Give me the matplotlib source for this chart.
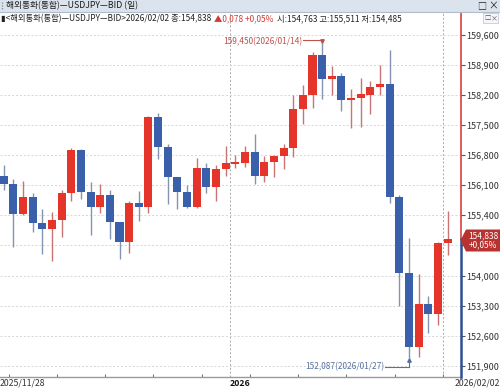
import numpy as np
import pandas as pd
import matplotlib
matplotlib.use("Agg")
import matplotlib.pyplot as plt
from matplotlib.patches import Rectangle, Polygon
from matplotlib.lines import Line2D

plt.rcParams['font.family'] = ['Noto Sans CJK KR', 'DejaVu Sans']

##### DATA #####
dates = [d.strftime("%Y/%m/%d") for d in pd.bdate_range("2025-11-28", "2026-02-02")]

opens = [156.314, 156.128, 155.423, 155.833, 155.214, 155.088, 155.284, 155.919, 156.912, 155.935,
         155.593, 155.865, 155.237, 154.772, 155.686, 155.600, 157.693, 156.995, 156.298, 155.935,
         155.586, 156.493, 156.065, 156.470, 156.600, 156.623, 156.872, 156.314, 156.647, 156.779,
         156.958, 157.865, 158.191, 159.121, 158.581, 158.647, 158.074, 158.121, 158.205, 158.377,
         158.447, 155.826, 154.058, 152.337, 153.344, 153.098, 154.763]
highs = [156.570, 156.244, 156.191, 155.919, 155.547, 155.477, 155.988, 156.958, 156.942, 156.167,
         156.128, 155.988, 155.244, 155.733, 155.965, 157.709, 157.772, 157.051, 156.298, 156.098,
         156.733, 156.609, 156.570, 157.005, 156.802, 157.005, 157.298, 156.779, 156.802, 157.065,
         158.198, 158.430, 159.191, 159.450, 158.879, 158.716, 158.337, 158.600, 158.530, 158.895,
         159.244, 155.872, 154.865, 154.028, 153.530, 154.772, 155.511]
lows = [155.988, 154.670, 155.407, 155.005, 154.500, 154.337, 154.895, 155.740, 155.779, 154.935,
        155.447, 154.842, 154.377, 154.516, 155.274, 155.460, 156.702, 155.656, 155.553, 155.570,
        155.575, 155.912, 155.740, 156.314, 156.500, 156.530, 156.121, 156.167, 156.298, 156.470,
        156.756, 157.516, 157.902, 158.105, 158.198, 157.833, 157.423, 157.460, 157.749, 158.198,
        155.679, 153.291, 152.087, 152.112, 152.670, 152.849, 154.485]
closes = [156.128, 155.430, 155.833, 155.221, 155.088, 155.284, 155.919, 156.912, 155.935, 155.586,
          155.865, 155.237, 154.772, 155.693, 155.600, 157.693, 156.995, 156.284, 155.935, 155.586,
          156.493, 156.065, 156.470, 156.623, 156.640, 156.872, 156.314, 156.647, 156.779, 156.958,
          157.872, 158.191, 159.121, 158.570, 158.647, 158.081, 158.135, 158.214, 158.377, 158.447,
          155.826, 154.058, 152.344, 153.344, 153.098, 154.749, 154.838]

yticks = [151.9, 152.6, 153.3, 154.0, 154.7, 155.4, 156.1, 156.8, 157.5, 158.2, 158.9, 159.6]
hidden_tick = 154.7   # covered by the price tag

title = "해외통화(통합)—USDJPY—BID (일)"
info_1 = "▮<해외통화(통합)—USDJPY—BID>2026/02/02 종:154,838"
info_2 = "▲0,078 +0,05%"
info_3 = "시:154,763 고:155,511 저:154,485"
change_pct = "+0,05%"

##### STYLE #####
W, H = 500, 388
RED = "#e5352b"
BLUE = "#3a5fab"
RED_WICK = "#c97474"
BLUE_WICK = "#8294b2"


def fx(px):
    return px / W


def fy(py):
    return 1 - py / H


def fmt(v):
    return f"{v:.3f}".replace(".", ",")


fig = plt.figure(figsize=(W / 100, H / 100), dpi=100)
fig.patch.set_facecolor("white")

# plot area: x 0..460.5 px, y 13..377 px
ax = fig.add_axes([0, fy(377), fx(460.5), (377 - 13) / H])
ax.set_facecolor("white")

x = np.arange(len(dates))
o = np.array(opens)
c = np.array(closes)
up = c >= o
cols = np.where(up, RED, BLUE)
wcols = np.where(up, RED_WICK, BLUE_WICK)

ax.vlines(x, lows, highs, colors=wcols, lw=1.0, zorder=2)
ax.bar(x, np.maximum(np.abs(c - o), 0.03), bottom=np.minimum(o, c), width=0.83,
       color=cols, linewidth=0, zorder=3)

ax.set_xlim(-3.7 / 9.65, (460.5 - 3.7) / 9.65)
ax.set_ylim(157.5 - (377 - 125) / 43.0, 157.5 + (125 - 13) / 43.0)

ax.set_yticks(yticks)
ax.set_yticklabels(["" if v == hidden_tick else fmt(v) for v in yticks])
ax.yaxis.tick_right()
ax.tick_params(axis="y", length=3, width=0.8, color="#555555", labelsize=6.5,
               labelcolor="#333333", pad=1)
ax.grid(axis="y", color="#d6d6d6", linestyle=(0, (2, 2)), lw=0.7, zorder=0)

# weekly ticks on the x axis, between friday and monday
dd = pd.to_datetime(dates)
week_ticks = [i + 0.5 for i in range(len(dd) - 1) if dd[i + 1].weekday() < dd[i].weekday()]
ax.set_xticks(week_ticks)
ax.set_xticklabels([])
ax.tick_params(axis="x", length=2, width=0.8, color="#777777", direction="in")

# year / month separators
year_sep = [i + 0.5 for i in range(len(dd) - 1) if dd[i + 1].month != dd[i].month
            and (dd[i + 1].month == 1 or dd[i + 1].month == 2)]
for xs in year_sep:
    ax.axvline(xs, color="#a8a8a8", linestyle=(0, (2, 2)), lw=0.7, zorder=1)

for s in ["top", "left", "right"]:
    ax.spines[s].set_visible(False)
ax.spines["bottom"].set_color("#9a9a9a")
ax.spines["bottom"].set_linewidth(1.0)

# right axis line, red above the last price, blue below
last = closes[-1]
ax.plot([1, 1], [last, ax.get_ylim()[1]], transform=ax.get_yaxis_transform(),
        color="#d8413a", lw=1.2, clip_on=False, zorder=5)
ax.plot([1, 1], [ax.get_ylim()[0], last], transform=ax.get_yaxis_transform(),
        color="#2e4f91", lw=1.8, clip_on=False, zorder=5)

# max / min annotations
hi = int(np.argmax(highs))
lo = int(np.argmin(lows))
ax.text(hi - 2.0, highs[hi] - 0.01, f"{fmt(highs[hi])}({dates[hi]})", ha="right", va="center",
        fontsize=6, color="#c0504d", zorder=6)
ax.plot([hi - 1.95, hi], [highs[hi] + 0.02, highs[hi] + 0.02], color="#c0504d", lw=0.8, zorder=6)
ax.plot(hi, highs[hi] + 0.0, marker="v", ms=2.5, color="#c0504d", zorder=6)

ax.text(lo - 2.55, lows[lo] - 0.205, f"{fmt(lows[lo])}({dates[lo]})", ha="right", va="center",
        fontsize=6, color="#56739f", zorder=6)
ax.plot([lo - 2.5, lo], [lows[lo] - 0.205, lows[lo] - 0.205], color="#56739f", lw=0.8, zorder=6)
ax.plot([lo, lo], [lows[lo] - 0.205, lows[lo] - 0.03], color="#56739f", lw=0.8, zorder=6)
ax.plot(lo, lows[lo] - 0.05, marker="^", ms=2.5, color="#56739f", zorder=6)

# x labels
fig.text(fx(0), fy(383), dates[0], ha="left", va="center", fontsize=6.3, color="#333333")
fig.text(fx(230), fy(383), dates[24][:4], ha="left", va="center", fontsize=6.3,
         color="#111111", fontweight="bold")
fig.text(fx(500), fy(383), dates[-1], ha="right", va="center", fontsize=6.3, color="#333333")

# last price tag
tag = Polygon([[fx(460.5), fy(240.3)], [fx(466), fy(229.5)], [fx(500), fy(229.5)],
               [fx(500), fy(251.5)], [fx(466), fy(251.5)]], closed=True,
              transform=fig.transFigure, facecolor="#b83330", edgecolor="none", zorder=10)
fig.patches.append(tag)
fig.text(fx(483), fy(240.5), f"{fmt(last)}\n{change_pct}", ha="center", va="center",
         fontsize=6.0, color="white", linespacing=0.95, zorder=11)

# header title bar
fig.patches.append(Rectangle((0, fy(11.5)), 1, 11.5 / H, transform=fig.transFigure,
                             facecolor="#dbe3ed", edgecolor="none", zorder=10))
fig.lines.append(Line2D([0, 1], [fy(11.5), fy(11.5)], transform=fig.transFigure,
                        color="#b0bccb", lw=0.8, zorder=11))
fig.lines.append(Line2D([fx(2), fx(2)], [fy(2), fy(10)], transform=fig.transFigure,
                        color="#8a97a8", lw=1, ls=(0, (1, 1)), zorder=11))
fig.text(fx(6), fy(6), title, ha="left", va="center", fontsize=6.3, color="#1a1a1a", zorder=12)
fig.text(fx(482), fy(6), "□", ha="center", va="center", fontsize=6.5, color="#222222", zorder=12)
fig.text(fx(493), fy(6), "×", ha="center", va="center", fontsize=7, color="#222222", zorder=12)

# info row
renderer = fig.canvas.get_renderer()
xpos = 1
for txt, col in [(info_1, "#222222"), (info_2, "#d33a32"), (info_3, "#222222")]:
    t = fig.text(fx(xpos), fy(18.5), txt, ha="left", va="center", fontsize=6.0, color=col,
                 zorder=12)
    xpos = t.get_window_extent(renderer).x1 + 3

fig.patches.append(Rectangle((fx(483), fy(23)), fx(15), 9.5 / H, transform=fig.transFigure,
                             facecolor="#f4f6f9", edgecolor="#c4ccd6", lw=0.6, zorder=10))
fig.text(fx(487.5), fy(18.3), "□", ha="center", va="center", fontsize=4.5, color="#555555", zorder=12)
fig.text(fx(494), fy(18.3), "×", ha="center", va="center", fontsize=5, color="#555555", zorder=12)

fig.savefig("out.png", dpi=100)
